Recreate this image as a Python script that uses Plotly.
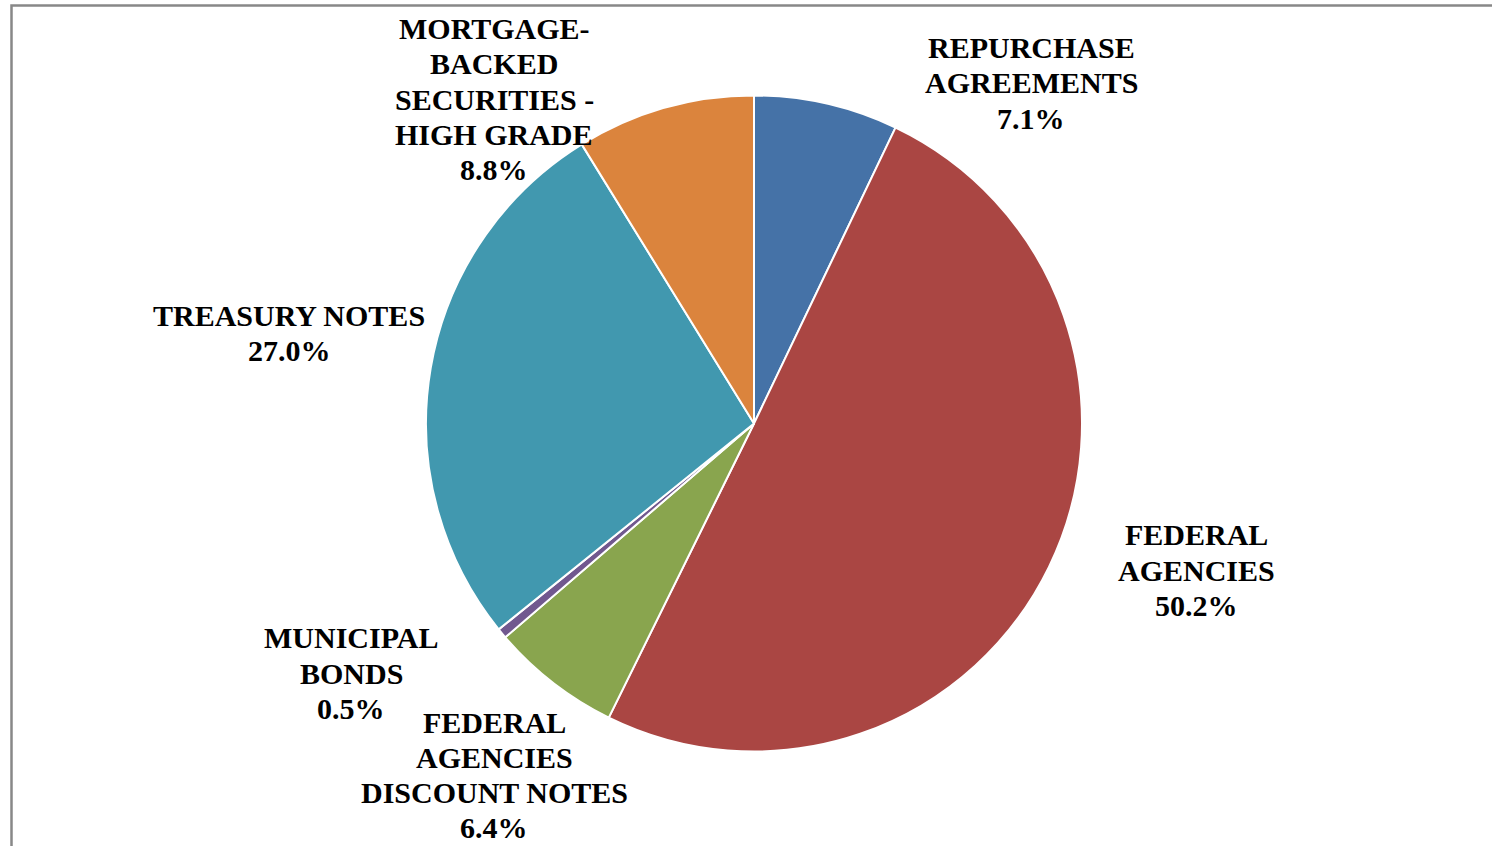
import plotly.graph_objects as go

labels = ["REPURCHASE<br>AGREEMENTS", "FEDERAL<br>AGENCIES", "FEDERAL<br>AGENCIES<br>DISCOUNT NOTES",
          "MUNICIPAL<br>BONDS", "TREASURY NOTES", "MORTGAGE-<br>BACKED<br>SECURITIES -<br>HIGH GRADE"]
values = [7.1, 50.2, 6.4, 0.5, 27.0, 8.8]
colors = ["#4572A7", "#AA4643", "#89A54E", "#71588F", "#4198AF", "#DB843D"]
# label centre positions in pixels (x, y)
label_pos = [(1031, 83), (1196, 570), (494, 775), (351, 673), (289, 333), (494, 99)]

W, H = 1492, 846
cx, cy, r = 754, 423.5, 328
line_gap = 35.3

fig = go.Figure()
fig.add_trace(go.Pie(
    labels=[l.replace("<br>", " ") for l in labels], values=values, sort=False, direction="clockwise",
    rotation=0, textinfo="none", hoverinfo="label+percent",
    marker=dict(colors=colors, line=dict(color="white", width=2)),
    domain=dict(x=[(cx - r) / W, (cx + r) / W], y=[(H - cy - r) / H, (H - cy + r) / H]),
    showlegend=False,
))

for lab, v, (px, py) in zip(labels, values, label_pos):
    lines = lab.split("<br>") + [f"{v:.1f}%"]
    n = len(lines)
    for i, ln in enumerate(lines):
        y = py + (i - (n - 1) / 2) * line_gap
        fig.add_annotation(x=px / W, y=1 - y / H, xref="paper", yref="paper",
                           text=f"<b>{ln}</b>", showarrow=False,
                           xanchor="center", yanchor="middle", align="center",
                           font=dict(family="Liberation Serif, Times New Roman, serif", size=30, color="black"))

fig.add_shape(type="rect", xref="paper", yref="paper",
              x0=11.5 / W, x1=1.02, y0=-0.02, y1=1 - 5.5 / H,
              line=dict(color="#888888", width=2.5), fillcolor="rgba(0,0,0,0)")

fig.update_layout(width=W, height=H, margin=dict(l=0, r=0, t=0, b=0),
                  paper_bgcolor="white", plot_bgcolor="white")
fig.write_html("out.html")
